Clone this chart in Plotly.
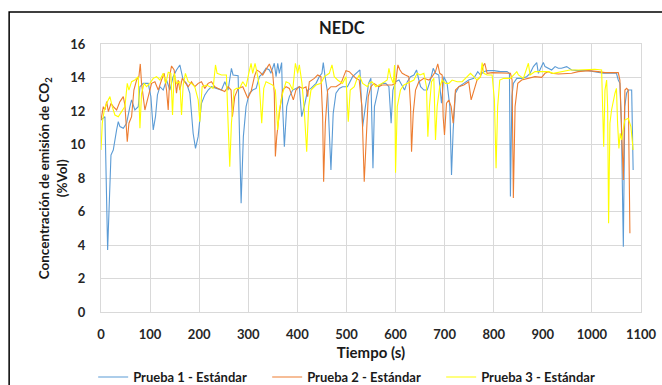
import plotly.graph_objects as go

# ---- data ----
t1 = [0, 8, 13.5, 20.3, 25, 28.4, 31.8, 35.2, 38.6, 45.4, 52.1, 58.9, 62.3, 69, 75.9, 79.3, 86, 96.2, 101.6, 106.4,
      111, 115, 120, 126.7, 133.5, 140.3, 147, 153.8, 160.6, 167.4, 174.2, 181, 187.7, 192.5, 197.9, 204.7, 211.5,
      218.2, 225, 235.2, 245.4, 252.2, 258.9, 265.7, 269, 279.3, 285.4, 290, 295.5, 302, 309, 316, 322.7, 329.5,
      336.2, 343, 346, 353, 356.6, 360, 363.3, 368, 370, 373.5, 378.3, 383.7, 390.5, 397, 404, 408.8, 414, 421,
      427.7, 438, 444.7, 450, 452.8, 456, 461.7, 468.4, 473, 478.6, 485.4, 492, 502, 512.5, 519.3, 527.4, 533,
      539.6, 545, 549.8, 554, 557, 566, 573, 580, 586.5, 591, 594.6, 600, 607, 613.6, 618.4, 624, 630.6, 637.4,
      642.8, 647.5, 651, 657.7, 664.5, 671, 676.7, 681.4, 688, 693.6, 698.4, 705, 710.6, 714, 717.4, 722, 729,
      739, 749, 759.4, 767.5, 773, 779.7, 786.5, 800, 813.6, 827, 832, 834, 837, 840, 847, 857, 867, 874, 880.8,
      887.6, 891, 897.7, 901, 904.5, 911, 918, 925, 931.6, 938, 948.6, 958.7, 972, 992.6, 1013, 1023, 1040, 1050,
      1053.7, 1057, 1060, 1064, 1067, 1070.6, 1074, 1081, 1084]
v1 = [11.46, 11.66, 3.70, 9.37, 9.67, 10.37, 10.87, 11.36, 11.07, 10.97, 11.27, 12.26, 12.66, 12.06, 12.26, 13.45,
      13.65, 13.65, 12.86, 10.87, 11.66, 12.96, 13.45, 13.25, 13.85, 13.25, 14.05, 14.45, 14.75, 13.85, 13.65, 13.06,
      10.67, 9.77, 10.47, 12.46, 12.96, 13.25, 13.45, 13.35, 13.25, 13.75, 13.25, 14.55, 14.15, 14.10, 6.49, 10.47,
      12.26, 13.05, 13.25, 13.35, 14.05, 14.25, 14.55, 14.45, 14.25, 14.85, 14.05, 14.85, 14.25, 14.89, 12.26, 9.87,
      12.26, 12.86, 13.25, 13.35, 13.45, 11.66, 12.26, 13.25, 13.35, 13.65, 14.05, 14.25, 14.89, 14.15, 13.06, 8.48,
      11.86, 13.06, 13.35, 13.45, 13.45, 14.05, 14.25, 14.45, 11.07, 12.66, 13.65, 13.95, 8.58, 12.26, 13.45, 13.65,
      13.65, 13.45, 11.27, 13.25, 13.75, 13.85, 13.45, 13.25, 13.75, 14.05, 14.15, 14.45, 13.85, 13.45, 13.25, 13.25,
      13.85, 14.55, 14.25, 14.15, 12.46, 14.05, 13.65, 12.26, 8.18, 10.87, 13.06, 13.45, 13.65, 13.85, 13.95, 14.35,
      14.15, 14.35, 14.41, 14.41, 14.35, 14.35, 14.25, 6.89, 12.86, 13.65, 13.95, 13.95, 14.05, 14.25, 14.65, 14.89,
      14.25, 14.75, 14.89, 14.65, 14.55, 14.45, 14.65, 14.55, 14.55, 14.65, 14.45, 14.41, 14.41, 14.31, 14.25, 14.25,
      14.25, 13.85, 13.65, 11.27, 3.90, 12.26, 13.06, 13.25, 13.25, 8.48]

t2 = [0, 4.7, 8, 11.5, 15, 20.3, 25, 31.8, 38.6, 45.4, 48.7, 53.5, 56.9, 62.3, 67, 72.5, 77.2, 80, 82.6, 89.4, 96.2,
      103, 109.8, 116.6, 123.3, 128.7, 133.5, 136.9, 140.3, 143.7, 149, 153.8, 157.2, 160.6, 165.4, 170.8, 177.6,
      184.3, 191.1, 198, 204.7, 211.5, 218.2, 225, 231.8, 238.6, 245.4, 252, 258.9, 265, 267.7, 272.5, 279.3, 288.8,
      299, 305.7, 312.5, 317.2, 322.7, 329.5, 339.6, 343, 349.8, 353, 355.2, 358, 363.3, 370, 377, 383.7, 391.8,
      397, 404, 410.8, 417.6, 421, 424.4, 434.5, 441.3, 448, 451.5, 453.5, 457, 461.7, 468.4, 478.6, 488.8, 495.6,
      499, 505.7, 512.5, 519.3, 526, 531.5, 536.2, 539.6, 544.4, 549.8, 556, 566, 573, 583, 593, 600, 604.8, 609,
      613.6, 620, 627, 630.6, 632.6, 636, 640.7, 647.5, 657.7, 668, 674.6, 681.4, 686, 690, 695, 697, 699.7, 703.8,
      708.5, 713.3, 717.4, 722, 729, 739, 749, 754, 759.4, 766, 773, 778.4, 781.8, 786.5, 796.7, 813.6, 834, 837.4,
      840, 843.5, 849, 857, 870.6, 884, 897.7, 904.5, 911, 918, 931.6, 945, 958.7, 972, 992.6, 1013, 1026.6, 1040,
      1053.7, 1057, 1060.5, 1064, 1067.2, 1070.6, 1074, 1077.4]
v2 = [11.46, 12.26, 12.06, 12.56, 11.96, 12.46, 12.26, 12.06, 12.56, 12.86, 12.36, 10.17, 11.27, 11.66, 13.25, 13.85,
      14.05, 14.81, 13.65, 12.06, 12.86, 13.65, 13.75, 13.25, 13.85, 14.25, 13.25, 12.06, 14.15, 14.69, 14.45, 13.06,
      13.85, 13.25, 13.95, 13.75, 13.45, 13.75, 13.45, 13.65, 13.75, 13.35, 13.65, 13.75, 13.45, 13.35, 13.25, 13.16,
      13.45, 13.25, 11.66, 12.86, 13.35, 13.45, 12.76, 13.16, 14.05, 14.45, 14.35, 14.15, 14.65, 14.81, 14.25, 13.06,
      9.28, 10.47, 11.86, 13.25, 13.45, 13.35, 12.66, 13.25, 13.45, 13.35, 13.45, 12.86, 13.75, 13.95, 14.15, 14.05,
      11.66, 7.78, 11.27, 13.25, 13.45, 13.45, 13.65, 14.25, 14.41, 14.35, 14.15, 13.95, 13.85, 12.26, 7.78, 10.27,
      12.86, 13.45, 13.65, 13.45, 13.55, 13.55, 13.55, 13.65, 14.75, 14.45, 14.25, 14.15, 14.05, 12.26, 9.57, 11.86,
      13.25, 13.75, 13.95, 13.85, 14.05, 14.35, 14.81, 14.25, 14.15, 11.66, 10.57, 12.46, 12.66, 12.26, 11.27, 13.25,
      13.45, 13.55, 13.75, 12.66, 13.25, 13.85, 14.05, 14.69, 14.85, 14.25, 14.29, 14.29, 14.25, 13.85, 6.80, 12.26,
      13.65, 13.85, 13.95, 14.05, 14.01, 14.25, 14.35, 14.25, 14.21, 14.25, 14.25, 14.35, 14.41, 14.35, 14.29, 14.29,
      14.29, 13.85, 10.67, 7.88, 13.25, 13.35, 13.25, 4.70]

t3 = [0, 2.6, 6.7, 11.5, 18.2, 22.9, 28.4, 35.2, 41.9, 48.7, 53.5, 56.9, 62.3, 69, 75.9, 79.3, 82.6, 88, 92.8, 99.6,
      106.4, 113.2, 120, 126.7, 132, 137, 142.3, 145.7, 149, 153.8, 160.6, 164, 167.4, 172, 177.6, 184.3, 191, 198,
      201.3, 206, 215, 221.5, 228.4, 233.2, 236.5, 245.4, 255.5, 258.9, 262.3, 265.7, 271, 276, 282, 288.8, 295.5,
      301, 305.7, 309, 313.8, 318, 322.7, 327.4, 331.5, 336.2, 343, 349.8, 355.2, 360, 363.3, 370, 377, 383.7,
      390.5, 396, 400.6, 404, 409.4, 414, 419, 423, 427.7, 438, 448, 454.9, 465, 470.5, 475.2, 482, 492, 499, 503.7,
      507.7, 516, 520.6, 526, 533, 543, 546.4, 551.8, 560, 566, 573, 583, 586.5, 590, 595.3, 598, 600, 603.5, 610,
      617, 624, 637.4, 644, 650, 657.7, 663, 665.8, 669, 673.3, 678, 681.4, 684.8, 690, 695, 701.8, 708.5, 715.3,
      725.5, 735.7, 746, 752.6, 759.4, 766, 773, 776.4, 779.7, 786.5, 796.7, 801.4, 804.8, 808, 812.3, 820.4, 834,
      847, 850.3, 860.4, 870.6, 874, 884, 897.7, 911, 921.5, 938, 955.3, 972, 989, 1006, 1019.8, 1024, 1026.6, 1030,
      1032, 1034, 1036.7, 1040, 1047, 1050, 1052.3, 1055, 1057.7, 1060.5, 1067, 1074, 1079.4, 1084]
v3 = [9.67, 11.27, 12.06, 12.46, 12.86, 12.26, 11.76, 11.66, 11.96, 12.26, 13.65, 13.25, 13.75, 13.85, 14.05, 10.97,
      13.06, 13.65, 13.45, 13.65, 13.95, 14.05, 13.85, 14.25, 13.65, 14.31, 14.25, 11.76, 14.25, 13.65, 13.75, 11.76,
      13.55, 14.25, 13.75, 13.65, 13.45, 12.66, 11.36, 13.45, 13.55, 13.45, 13.35, 14.75, 14.25, 14.15, 14.15, 11.27,
      8.68, 11.27, 13.25, 13.35, 13.35, 13.75, 13.45, 14.25, 14.85, 14.25, 14.85, 14.25, 13.45, 11.27, 13.35, 13.75,
      13.65, 13.55, 13.25, 10.87, 12.06, 13.06, 13.75, 13.65, 13.25, 14.85, 14.25, 14.75, 13.65, 12.06, 9.57, 12.26,
      13.25, 13.55, 13.65, 14.05, 14.25, 14.75, 14.05, 13.85, 13.65, 14.05, 11.36, 13.25, 13.45, 13.85, 14.15, 13.65,
      13.45, 13.65, 13.75, 13.45, 13.55, 13.65, 13.85, 14.55, 14.05, 13.65, 14.75, 8.32, 12.26, 13.25, 13.55, 13.65,
      13.85, 14.25, 14.15, 14.25, 13.45, 10.47, 12.26, 13.75, 13.95, 10.27, 12.26, 13.45, 13.85, 13.65, 13.65, 13.85,
      13.75, 13.75, 14.05, 14.25, 14.05, 13.85, 14.05, 14.89, 14.25, 14.15, 14.15, 12.66, 8.58, 12.26, 13.85, 13.95,
      13.95, 14.35, 14.15, 13.95, 14.85, 14.15, 14.35, 14.35, 14.35, 14.25, 14.35, 14.45, 14.45, 14.49, 14.49, 14.45,
      9.87, 13.25, 13.85, 12.26, 5.30, 11.27, 12.06, 13.06, 13.35, 11.27, 9.77, 10.67, 10.27, 11.46, 11.56, 11.07,
      9.67]

series_names = ["Prueba 1 - Estándar", "Prueba 2 - Estándar", "Prueba 3 - Estándar"]
series_colors = ["#5B9BD5", "#ED7D31", "#FFFF00"]
x_ticks = [0, 100, 200, 300, 400, 500, 600, 700, 800, 900, 1000, 1100]
y_ticks = [0, 2, 4, 6, 8, 10, 12, 14, 16]

FONT = "Lato"
fig = go.Figure()
for t, v, n, c in zip([t1, t2, t3], [v1, v2, v3], series_names, series_colors):
    fig.add_trace(go.Scatter(x=t, y=v, mode="lines", name=n,
                             line=dict(color=c, width=1.1)))

grid = "#D9D9D9"
fig.update_layout(
    width=662, height=385,
    margin=dict(l=101, r=21, t=44, b=73, autoexpand=False),
    paper_bgcolor="white", plot_bgcolor="white",
    font=dict(family=FONT, color="#262626"),
    title=dict(text="<b>NEDC</b>", xref="paper", x=(342 - 100.7) / 540.8, xanchor="center",
               y=1 - 28 / 385, yanchor="middle", font=dict(size=16.5, color="#1a1a1a")),
    showlegend=True,
    legend=dict(orientation="h", x=-0.0145, xanchor="left", y=-0.2425, yanchor="middle",
                entrywidth=129, entrywidthmode="pixels", tracegroupgap=0,
                font=dict(size=13, family=FONT, color="#1a1a1a", weight="bold"),
                bgcolor="rgba(0,0,0,0)"),
)
fig.update_xaxes(range=[0, 1100], tickvals=x_ticks, ticktext=[f"<b>{x}</b>" for x in x_ticks],
                 showgrid=True, gridcolor=grid, gridwidth=1, zeroline=False,
                 showline=True, linecolor=grid, linewidth=1, mirror=True, automargin=False,
                 ticks="", ticklabelstandoff=10, tickfont=dict(size=13, color="#262626"),
                 title=dict(text="<b>Tiempo (s)</b>", font=dict(size=15, color="#1a1a1a"), standoff=6))
fig.update_yaxes(range=[0, 16], tickvals=y_ticks, ticktext=[f"<b>{y}</b>" for y in y_ticks],
                 showgrid=True, gridcolor=grid, gridwidth=1, zeroline=False,
                 showline=True, linecolor=grid, linewidth=1, mirror=True, automargin=False,
                 ticks="", ticklabelstandoff=12, tickfont=dict(size=13, color="#262626"))

# y-axis title (two lines, rotated)
fig.add_annotation(text="<b>Concentración de emisión de CO<sub>2</sub></b><br><b>(%Vol)</b>",
                   xref="paper", yref="paper", x=(53 - 100.7) / 540.8, y=0.5,
                   xanchor="center", yanchor="middle", textangle=-90, showarrow=False,
                   font=dict(size=13.5, color="#1a1a1a", family=FONT))

# outer chart frame (partly outside the picture, as in the reference)
fig.add_shape(type="rect", xref="paper", yref="paper",
              x0=(9 - 101) / 540.8, x1=1.2, y0=-0.5, y1=(312 - 12) / 268,
              line=dict(color="#000000", width=1.5), fillcolor="rgba(0,0,0,0)", layer="below")

fig.write_html("out.html")
